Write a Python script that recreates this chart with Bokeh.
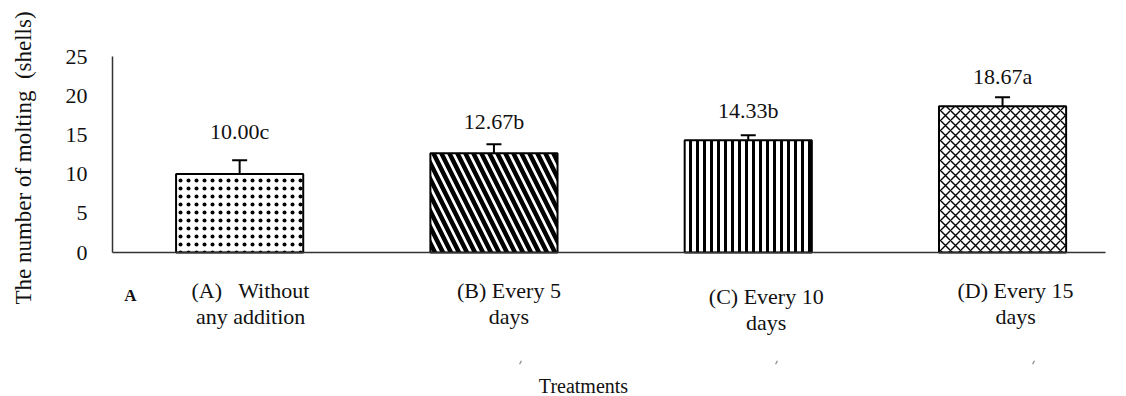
import math
from bokeh.plotting import figure
from bokeh.models import Range1d, Whisker, TeeHead, ColumnDataSource
from bokeh.core.properties import value
from bokeh.embed import file_html
from bokeh.resources import INLINE

# ---- data ----
categories_line1 = ["(A) \u00a0 Without", "(B) Every 5", "(C) Every 10", "(D) Every 15"]
categories_line2 = ["any addition", "days", "days", "days"]
values = [10.00, 12.67, 14.33, 18.67]
errors = [1.78, 1.13, 0.64, 1.12]
value_labels = ["10.00c", "12.67b", "14.33b", "18.67a"]
y_ticks = [0, 5, 10, 15, 20, 25]
y_title = "The number of molting \u00a0(shells)"
x_title = "Treatments"
panel_tag = "A"

# ---- styles / layout ----
FONT = value("Liberation Serif")
INK = "#111111"
AXIS = "#333333"
patterns = ["dot", "left_diagonal_line", "vertical_line", "diagonal_cross"]
hatch_scales = [8, 16, 7, 10]
hatch_weights = [0.5, 4.5, 3, 1.4]
label_gap = [3.6, 2.9, 3.1, 2.7]          # data units above error-bar top
cat_x_offset = [11, 15, 18, 13]           # px
cat_y1 = [-4.85, -4.85, -5.61, -4.85]
cat_y2 = [-8.16, -8.16, -8.93, -8.16]
x_axis_end = 3.905

W, H = 1120, 396
X0_PX, Y0_PX = 112, 252                    # pixel position of data origin
PX_X, PX_Y = 254.3, 7.84                   # pixels per data unit

xs = [i + 0.5 for i in range(len(values))]

p = figure(width=W, height=H, output_backend="svg", toolbar_location=None,
           x_range=Range1d(-X0_PX / PX_X, (W - X0_PX) / PX_X),
           y_range=Range1d(-(H - Y0_PX) / PX_Y, Y0_PX / PX_Y),
           min_border=0)
p.axis.visible = False
p.grid.visible = False
p.outline_line_color = None
p.background_fill_color = "white"
p.border_fill_color = "white"

# bars
src = ColumnDataSource(dict(x=xs, top=values, pat=patterns, hs=hatch_scales, hw=hatch_weights))
p.vbar(x="x", top="top", bottom=0, width=0.5, source=src,
       fill_color="white", line_color="black", line_width=2,
       hatch_pattern="pat", hatch_scale="hs", hatch_weight="hw", hatch_color="black")

# axes lines
p.segment(x0=[0], y0=[min(y_ticks)], x1=[0], y1=[max(y_ticks)], line_color=AXIS, line_width=1.5)
p.segment(x0=[0], y0=[0], x1=[x_axis_end], y1=[0], line_color=AXIS, line_width=1.5)

# y tick labels
p.text(x=[0] * len(y_ticks), y=y_ticks, text=[str(t) for t in y_ticks], x_offset=-25,
       text_font=FONT, text_font_size="22px", text_color=INK,
       text_align="right", text_baseline="middle")

# y title
p.text(x=[(23 - X0_PX) / PX_X], y=[(Y0_PX - 157.5) / PX_Y], text=[y_title], angle=math.pi / 2,
       text_font=FONT, text_font_size="23px", text_color=INK,
       text_align="center", text_baseline="middle")

# error bars
upper = [v + e for v, e in zip(values, errors)]
lower = [v - e for v, e in zip(values, errors)]
esrc = ColumnDataSource(dict(base=xs, upper=upper, lower=lower))
p.add_layout(Whisker(source=esrc, base="base", upper="upper", lower="lower",
                     line_color="black", line_width=2,
                     upper_head=TeeHead(size=15, line_width=2, line_color="black"),
                     lower_head=TeeHead(size=15, line_width=2, line_color="black")))

# value labels
p.text(x=xs, y=[u + g for u, g in zip(upper, label_gap)], text=value_labels,
       text_font=FONT, text_font_size="22px", text_color=INK,
       text_align="center", text_baseline="alphabetic")

# category labels (two lines)
csrc = ColumnDataSource(dict(x=xs, y1=cat_y1, y2=cat_y2, t1=categories_line1,
                             t2=categories_line2, xo=cat_x_offset))
p.text(x="x", y="y1", text="t1", x_offset="xo", source=csrc,
       text_font=FONT, text_font_size="22px", text_color=INK,
       text_align="center", text_baseline="alphabetic")
p.text(x="x", y="y2", text="t2", x_offset="xo", source=csrc,
       text_font=FONT, text_font_size="22px", text_color=INK,
       text_align="center", text_baseline="alphabetic")

# panel tag and x title
p.text(x=[(130 - X0_PX) / PX_X], y=[-5.48], text=[panel_tag],
       text_font=FONT, text_font_size="17px", text_font_style="bold", text_color=INK,
       text_align="center", text_baseline="alphabetic")
p.text(x=[(583 - X0_PX) / PX_X], y=[-17.0], text=[x_title],
       text_font=FONT, text_font_size="20px", text_color=INK,
       text_align="center", text_baseline="alphabetic")

# tiny stray marks
p.scatter(x=[(520 - X0_PX) / PX_X, (776 - X0_PX) / PX_X, (1033 - X0_PX) / PX_X],
          y=[-14.03] * 3, marker="dash", size=4, angle=1.1, line_color="#888888", line_width=1.2)

open("out.html", "w").write(file_html(p, INLINE))
